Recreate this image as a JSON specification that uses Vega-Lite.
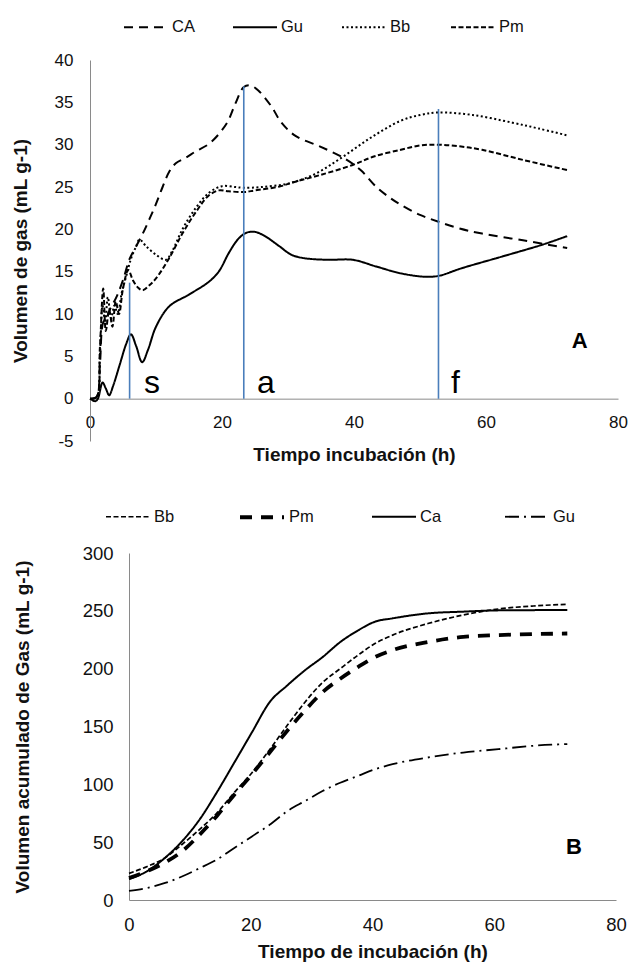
{
  "$schema": "https://vega.github.io/schema/vega-lite/v6.json",
  "background": "white",
  "padding": {"left": 11, "top": 4, "right": 5, "bottom": 0},
  "columns": 1,
  "spacing": 28,
  "datasets": {
    "a": [
      {"h": 0, "v": 0, "s": "CA"}, {"h": 1, "v": 0.2, "s": "CA"}, {"h": 1.5, "v": 4, "s": "CA"}, {"h": 2, "v": 9, "s": "CA"}, {"h": 2.5, "v": 9.5, "s": "CA"}, {"h": 3, "v": 10.5, "s": "CA"}, {"h": 4, "v": 12, "s": "CA"}, {"h": 5, "v": 14, "s": "CA"}, {"h": 6, "v": 16.5, "s": "CA"}, {"h": 7, "v": 18, "s": "CA"}, {"h": 8, "v": 19.5, "s": "CA"}, {"h": 9, "v": 21.2, "s": "CA"}, {"h": 10, "v": 23, "s": "CA"}, {"h": 11, "v": 25, "s": "CA"}, {"h": 12, "v": 26.8, "s": "CA"}, {"h": 13, "v": 27.8, "s": "CA"}, {"h": 14.6, "v": 28.5, "s": "CA"}, {"h": 16, "v": 29.2, "s": "CA"}, {"h": 18.2, "v": 30.2, "s": "CA"}, {"h": 20.7, "v": 32.5, "s": "CA"}, {"h": 22, "v": 34.8, "s": "CA"}, {"h": 23.3, "v": 36.8, "s": "CA"}, {"h": 24.3, "v": 37, "s": "CA"}, {"h": 25.5, "v": 36.4, "s": "CA"}, {"h": 27.5, "v": 34.5, "s": "CA"}, {"h": 29, "v": 32.6, "s": "CA"}, {"h": 31.2, "v": 31, "s": "CA"}, {"h": 34.8, "v": 29.8, "s": "CA"}, {"h": 38.5, "v": 28.4, "s": "CA"}, {"h": 41, "v": 27, "s": "CA"}, {"h": 43.4, "v": 25, "s": "CA"}, {"h": 45.5, "v": 23.7, "s": "CA"}, {"h": 47.1, "v": 22.9, "s": "CA"}, {"h": 50, "v": 21.7, "s": "CA"}, {"h": 52.8, "v": 20.9, "s": "CA"}, {"h": 56, "v": 20.1, "s": "CA"}, {"h": 59.4, "v": 19.5, "s": "CA"}, {"h": 65.6, "v": 18.7, "s": "CA"}, {"h": 72.3, "v": 17.8, "s": "CA"},
      {"h": 0, "v": 0, "s": "Gu"}, {"h": 0.8, "v": -0.3, "s": "Gu"}, {"h": 1.2, "v": 0, "s": "Gu"}, {"h": 1.9, "v": 1.9, "s": "Gu"}, {"h": 2.4, "v": 1.2, "s": "Gu"}, {"h": 2.9, "v": 0.4, "s": "Gu"}, {"h": 3.5, "v": 1.5, "s": "Gu"}, {"h": 4.5, "v": 4, "s": "Gu"}, {"h": 5.5, "v": 6.5, "s": "Gu"}, {"h": 6.2, "v": 7.6, "s": "Gu"}, {"h": 7, "v": 6.2, "s": "Gu"}, {"h": 7.9, "v": 4.3, "s": "Gu"}, {"h": 8.8, "v": 5.8, "s": "Gu"}, {"h": 10, "v": 8.5, "s": "Gu"}, {"h": 12, "v": 10.9, "s": "Gu"}, {"h": 15, "v": 12.3, "s": "Gu"}, {"h": 18, "v": 13.8, "s": "Gu"}, {"h": 19.5, "v": 15, "s": "Gu"}, {"h": 21.1, "v": 17.3, "s": "Gu"}, {"h": 22.5, "v": 18.9, "s": "Gu"}, {"h": 23.7, "v": 19.6, "s": "Gu"}, {"h": 25, "v": 19.7, "s": "Gu"}, {"h": 26.5, "v": 19.2, "s": "Gu"}, {"h": 28.7, "v": 18, "s": "Gu"}, {"h": 30.5, "v": 17, "s": "Gu"}, {"h": 32.4, "v": 16.6, "s": "Gu"}, {"h": 36, "v": 16.4, "s": "Gu"}, {"h": 39.8, "v": 16.4, "s": "Gu"}, {"h": 43.4, "v": 15.6, "s": "Gu"}, {"h": 47.1, "v": 14.8, "s": "Gu"}, {"h": 50.8, "v": 14.4, "s": "Gu"}, {"h": 52.8, "v": 14.5, "s": "Gu"}, {"h": 56.3, "v": 15.4, "s": "Gu"}, {"h": 62.5, "v": 16.8, "s": "Gu"}, {"h": 68.6, "v": 18.2, "s": "Gu"}, {"h": 72.3, "v": 19.2, "s": "Gu"},
      {"h": 0, "v": 0, "s": "Bb"}, {"h": 1, "v": 0.2, "s": "Bb"}, {"h": 1.5, "v": 5, "s": "Bb"}, {"h": 1.9, "v": 11, "s": "Bb"}, {"h": 2.3, "v": 9, "s": "Bb"}, {"h": 2.7, "v": 12, "s": "Bb"}, {"h": 3.2, "v": 9.5, "s": "Bb"}, {"h": 3.7, "v": 11, "s": "Bb"}, {"h": 4.2, "v": 10, "s": "Bb"}, {"h": 4.8, "v": 12.5, "s": "Bb"}, {"h": 5.5, "v": 14.5, "s": "Bb"}, {"h": 6.2, "v": 16.5, "s": "Bb"}, {"h": 7, "v": 18, "s": "Bb"}, {"h": 7.5, "v": 18.8, "s": "Bb"}, {"h": 8.5, "v": 18, "s": "Bb"}, {"h": 10, "v": 17, "s": "Bb"}, {"h": 11.5, "v": 16.4, "s": "Bb"}, {"h": 12.5, "v": 17.5, "s": "Bb"}, {"h": 14, "v": 20, "s": "Bb"}, {"h": 16, "v": 22.5, "s": "Bb"}, {"h": 18, "v": 24.3, "s": "Bb"}, {"h": 20, "v": 25.1, "s": "Bb"}, {"h": 22, "v": 25, "s": "Bb"}, {"h": 23.3, "v": 24.9, "s": "Bb"}, {"h": 26, "v": 25, "s": "Bb"}, {"h": 30, "v": 25.4, "s": "Bb"}, {"h": 34, "v": 26.5, "s": "Bb"}, {"h": 38, "v": 28.4, "s": "Bb"}, {"h": 42.5, "v": 30.8, "s": "Bb"}, {"h": 47, "v": 32.8, "s": "Bb"}, {"h": 50, "v": 33.5, "s": "Bb"}, {"h": 52.8, "v": 33.8, "s": "Bb"}, {"h": 58, "v": 33.5, "s": "Bb"}, {"h": 64, "v": 32.6, "s": "Bb"}, {"h": 68, "v": 31.9, "s": "Bb"}, {"h": 72.3, "v": 31.1, "s": "Bb"},
      {"h": 0, "v": 0, "s": "Pm"}, {"h": 1, "v": 0.2, "s": "Pm"}, {"h": 1.5, "v": 6, "s": "Pm"}, {"h": 2, "v": 13, "s": "Pm"}, {"h": 2.4, "v": 8, "s": "Pm"}, {"h": 2.9, "v": 10.5, "s": "Pm"}, {"h": 3.4, "v": 8.5, "s": "Pm"}, {"h": 3.9, "v": 11.5, "s": "Pm"}, {"h": 4.4, "v": 10, "s": "Pm"}, {"h": 5, "v": 13, "s": "Pm"}, {"h": 5.8, "v": 15.2, "s": "Pm"}, {"h": 6.5, "v": 14, "s": "Pm"}, {"h": 7.3, "v": 13.1, "s": "Pm"}, {"h": 8, "v": 12.8, "s": "Pm"}, {"h": 9, "v": 13.4, "s": "Pm"}, {"h": 10, "v": 14.2, "s": "Pm"}, {"h": 12, "v": 16.6, "s": "Pm"}, {"h": 14, "v": 19.5, "s": "Pm"}, {"h": 16, "v": 22, "s": "Pm"}, {"h": 18, "v": 24, "s": "Pm"}, {"h": 19.5, "v": 24.6, "s": "Pm"}, {"h": 21, "v": 24.5, "s": "Pm"}, {"h": 23.3, "v": 24.4, "s": "Pm"}, {"h": 25, "v": 24.6, "s": "Pm"}, {"h": 28.7, "v": 25.05, "s": "Pm"}, {"h": 31, "v": 25.6, "s": "Pm"}, {"h": 34.8, "v": 26.4, "s": "Pm"}, {"h": 39.8, "v": 27.6, "s": "Pm"}, {"h": 43, "v": 28.6, "s": "Pm"}, {"h": 47.1, "v": 29.4, "s": "Pm"}, {"h": 50, "v": 29.9, "s": "Pm"}, {"h": 52.8, "v": 30, "s": "Pm"}, {"h": 56, "v": 29.8, "s": "Pm"}, {"h": 59.4, "v": 29.4, "s": "Pm"}, {"h": 65.6, "v": 28.2, "s": "Pm"}, {"h": 72.3, "v": 27, "s": "Pm"}
    ],
    "phases": [
      {"h": 6, "top": 13.7, "t": "s", "th": 8.2},
      {"h": 23.3, "top": 36.9, "t": "a", "th": 25.3},
      {"h": 52.8, "top": 34.2, "t": "f", "th": 54.7}
    ],
    "b": [
      {"h": 0, "v": 23, "s": "Bb"}, {"h": 3, "v": 29, "s": "Bb"}, {"h": 5.8, "v": 36, "s": "Bb"}, {"h": 8.7, "v": 48, "s": "Bb"}, {"h": 11.6, "v": 61, "s": "Bb"}, {"h": 14.4, "v": 75, "s": "Bb"}, {"h": 17.3, "v": 93, "s": "Bb"}, {"h": 20.2, "v": 110, "s": "Bb"}, {"h": 23.1, "v": 130, "s": "Bb"}, {"h": 26, "v": 151, "s": "Bb"}, {"h": 28.9, "v": 171, "s": "Bb"}, {"h": 31.8, "v": 188, "s": "Bb"}, {"h": 34.7, "v": 200, "s": "Bb"}, {"h": 37.6, "v": 211.6, "s": "Bb"}, {"h": 40.4, "v": 221.7, "s": "Bb"}, {"h": 43.3, "v": 229, "s": "Bb"}, {"h": 49.1, "v": 239, "s": "Bb"}, {"h": 54.9, "v": 246.4, "s": "Bb"}, {"h": 60.7, "v": 251.6, "s": "Bb"}, {"h": 66.4, "v": 254.2, "s": "Bb"}, {"h": 72, "v": 255.6, "s": "Bb"},
      {"h": 0, "v": 19, "s": "Pm"}, {"h": 3, "v": 25, "s": "Pm"}, {"h": 5.8, "v": 32, "s": "Pm"}, {"h": 8.7, "v": 42, "s": "Pm"}, {"h": 11.6, "v": 56.5, "s": "Pm"}, {"h": 14.4, "v": 72.5, "s": "Pm"}, {"h": 17.3, "v": 91, "s": "Pm"}, {"h": 20.2, "v": 108.7, "s": "Pm"}, {"h": 23.1, "v": 127.5, "s": "Pm"}, {"h": 26, "v": 146.4, "s": "Pm"}, {"h": 28.9, "v": 163.8, "s": "Pm"}, {"h": 31.8, "v": 179.7, "s": "Pm"}, {"h": 34.7, "v": 191.3, "s": "Pm"}, {"h": 37.6, "v": 201.4, "s": "Pm"}, {"h": 40.4, "v": 210, "s": "Pm"}, {"h": 43.3, "v": 216, "s": "Pm"}, {"h": 49.1, "v": 223, "s": "Pm"}, {"h": 54.9, "v": 227.5, "s": "Pm"}, {"h": 60.7, "v": 229, "s": "Pm"}, {"h": 72, "v": 230.4, "s": "Pm"},
      {"h": 0, "v": 18, "s": "Ca"}, {"h": 3, "v": 25, "s": "Ca"}, {"h": 5.8, "v": 36, "s": "Ca"}, {"h": 8.7, "v": 50.7, "s": "Ca"}, {"h": 11.6, "v": 69.6, "s": "Ca"}, {"h": 14.4, "v": 92.8, "s": "Ca"}, {"h": 17.3, "v": 118.8, "s": "Ca"}, {"h": 20.2, "v": 145, "s": "Ca"}, {"h": 23.1, "v": 171, "s": "Ca"}, {"h": 26, "v": 185.5, "s": "Ca"}, {"h": 28.9, "v": 198.6, "s": "Ca"}, {"h": 31.8, "v": 210, "s": "Ca"}, {"h": 34.7, "v": 223, "s": "Ca"}, {"h": 37.6, "v": 233, "s": "Ca"}, {"h": 40.4, "v": 240.6, "s": "Ca"}, {"h": 43.3, "v": 243.5, "s": "Ca"}, {"h": 49.1, "v": 247.8, "s": "Ca"}, {"h": 54.9, "v": 249.3, "s": "Ca"}, {"h": 60.7, "v": 250.4, "s": "Ca"}, {"h": 72, "v": 250.7, "s": "Ca"},
      {"h": 0, "v": 7.8, "s": "Gu"}, {"h": 3, "v": 10.5, "s": "Gu"}, {"h": 5.8, "v": 14.5, "s": "Gu"}, {"h": 8.7, "v": 20.3, "s": "Gu"}, {"h": 11.6, "v": 27.5, "s": "Gu"}, {"h": 14.4, "v": 34.8, "s": "Gu"}, {"h": 17.3, "v": 45, "s": "Gu"}, {"h": 20.2, "v": 55, "s": "Gu"}, {"h": 23.1, "v": 65, "s": "Gu"}, {"h": 26, "v": 76.8, "s": "Gu"}, {"h": 28.9, "v": 85.5, "s": "Gu"}, {"h": 31.8, "v": 94.2, "s": "Gu"}, {"h": 34.7, "v": 101.4, "s": "Gu"}, {"h": 37.6, "v": 107.2, "s": "Gu"}, {"h": 40.4, "v": 113, "s": "Gu"}, {"h": 43.3, "v": 117.4, "s": "Gu"}, {"h": 49.1, "v": 123.2, "s": "Gu"}, {"h": 54.9, "v": 127.5, "s": "Gu"}, {"h": 60.7, "v": 130.4, "s": "Gu"}, {"h": 66.4, "v": 133.3, "s": "Gu"}, {"h": 72, "v": 134.8, "s": "Gu"}
    ],
    "tagA": [{"h": 74.2, "v": 6.8, "t": "A"}],
    "tagB": [{"h": 73.1, "v": 45.8, "t": "B"}]
  },
  "config": {
    "font": "Liberation Sans",
    "view": {"stroke": null},
    "axis": {
      "grid": false,
      "ticks": false,
      "domainColor": "#8a8a8a",
      "domainWidth": 1,
      "labelColor": "#111111",
      "titleColor": "#111111",
      "labelFont": "Liberation Sans",
      "titleFont": "Liberation Sans",
      "titleFontWeight": "bold",
      "titleFontSize": 19,
      "labelFlush": false,
      "labelOverlap": false
    },
    "legend": {
      "orient": "none",
      "direction": "horizontal",
      "title": null,
      "padding": 0,
      "symbolType": "stroke",
      "symbolSize": 1936,
      "symbolStrokeColor": "#000000",
      "symbolStrokeWidth": 2,
      "labelFont": "Liberation Sans",
      "labelFontSize": 16.5,
      "labelColor": "#111111",
      "labelOffset": 3,
      "gridAlign": "all"
    }
  },
  "resolve": {
    "scale": {"x": "independent", "y": "independent", "strokeDash": "independent", "strokeWidth": "independent"},
    "legend": {"strokeDash": "independent", "strokeWidth": "independent"}
  },
  "concat": [
    {
      "width": 528,
      "height": 381,
      "layer": [
        {
          "data": {"name": "a"},
          "mark": {"type": "line", "color": "#000000", "strokeWidth": 2, "interpolate": "catmull-rom"},
          "encoding": {
            "x": {"field": "h", "type": "quantitative", "scale": {"domain": [0, 80], "nice": false},
              "axis": {"values": [0, 20, 40, 60, 80], "offset": -42.33, "labelPadding": 16, "labelFontSize": 17, "title": "Tiempo incubación (h)", "titlePadding": 15}},
            "y": {"field": "v", "type": "quantitative", "scale": {"domain": [-5, 40], "nice": false},
              "axis": {"values": [-5, 0, 5, 10, 15, 20, 25, 30, 35, 40], "labelExpr": "datum.value < 0 ? '-' + abs(datum.value) : datum.label", "labelPadding": 17, "labelFontSize": 17, "title": "Volumen de gas (mL g-1)", "titlePadding": 24}},
            "strokeDash": {"field": "s", "type": "nominal",
              "scale": {"domain": ["CA", "Gu", "Bb", "Pm"], "range": [[9, 6], [1, 0], [2, 2.5], [5, 2.5]]},
              "legend": {"legendX": 33, "legendY": -56, "columnPadding": 32}}
          }
        },
        {
          "data": {"name": "phases"},
          "mark": {"type": "rule", "color": "#4a7ebb", "strokeWidth": 1.6},
          "encoding": {
            "x": {"field": "h", "type": "quantitative"},
            "y": {"field": "top", "type": "quantitative"},
            "y2": {"datum": 0}
          }
        },
        {
          "data": {"name": "phases"},
          "mark": {"type": "text", "fontSize": 32, "align": "left", "baseline": "alphabetic", "color": "#000000"},
          "encoding": {
            "x": {"field": "th", "type": "quantitative"},
            "y": {"datum": 0.7, "type": "quantitative"},
            "text": {"field": "t", "type": "nominal"}
          }
        },
        {
          "data": {"name": "tagA"},
          "mark": {"type": "text", "fontSize": 22, "fontWeight": "bold", "color": "#000000"},
          "encoding": {
            "x": {"field": "h", "type": "quantitative"},
            "y": {"field": "v", "type": "quantitative"},
            "text": {"field": "t", "type": "nominal"}
          }
        }
      ]
    },
    {
      "width": 526,
      "height": 347,
      "layer": [
        {
          "data": {"name": "b"},
          "mark": {"type": "line", "color": "#000000", "interpolate": "monotone"},
          "encoding": {
            "x": {"field": "h", "type": "quantitative", "scale": {"domain": [0, 80], "nice": false, "range": [39, 526]},
              "axis": {"values": [0, 20, 40, 60, 80], "labelPadding": 15, "labelFontSize": 18.5, "title": "Tiempo de incubación (h)", "titlePadding": 9}},
            "y": {"field": "v", "type": "quantitative", "scale": {"domain": [0, 300], "nice": false},
              "axis": {"values": [0, 50, 100, 150, 200, 250, 300], "offset": -39, "labelPadding": 16, "labelFontSize": 18.5, "title": "Volumen acumulado de Gas (mL g-1)", "titlePadding": 50}},
            "strokeDash": {"field": "s", "type": "nominal",
              "scale": {"domain": ["Bb", "Pm", "Ca", "Gu"], "range": [[5, 2.5], [12, 9], [1, 0], [14, 5, 2, 5]]},
              "legend": {"legendX": 15, "legendY": -60, "columnPadding": 51}},
            "strokeWidth": {"field": "s", "type": "nominal",
              "scale": {"type": "ordinal", "domain": ["Bb", "Pm", "Ca", "Gu"], "range": [1.7, 3.8, 2, 1.8]},
              "legend": {"legendX": 15, "legendY": -60, "columnPadding": 51}}
          }
        },
        {
          "data": {"name": "tagB"},
          "mark": {"type": "text", "fontSize": 22, "fontWeight": "bold", "color": "#000000"},
          "encoding": {
            "x": {"field": "h", "type": "quantitative"},
            "y": {"field": "v", "type": "quantitative"},
            "text": {"field": "t", "type": "nominal"}
          }
        }
      ]
    }
  ]
}
